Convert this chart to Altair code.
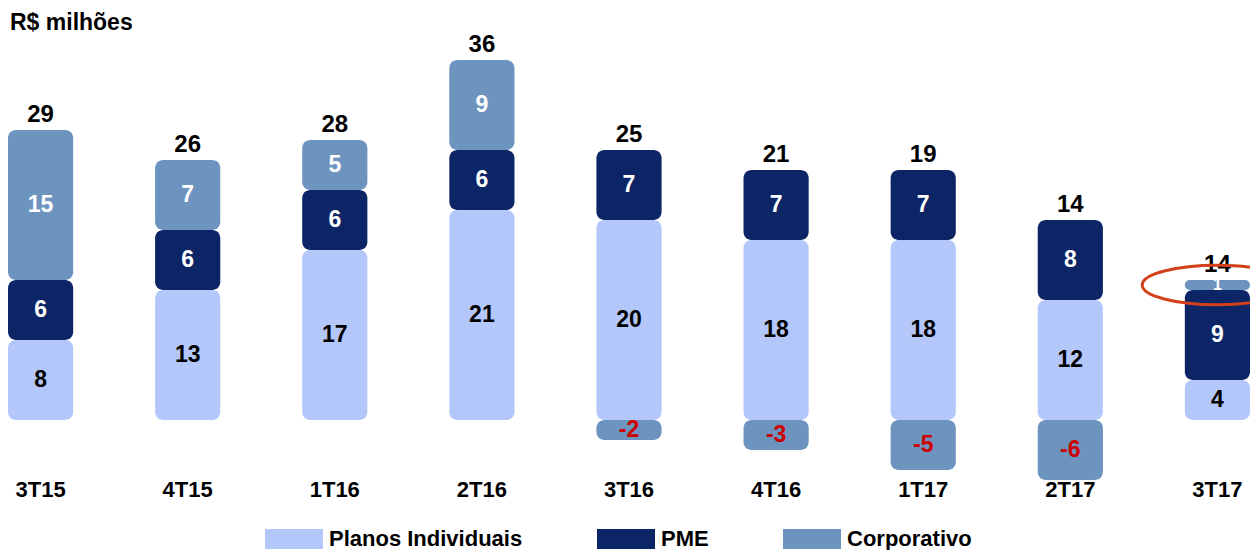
import altair as alt
import pandas as pd

quarters = ["3T15", "4T15", "1T16", "2T16", "3T16", "4T16", "1T17", "2T17", "3T17"]
planos = [8, 13, 17, 21, 20, 18, 18, 12, 4]
pme = [6, 6, 6, 6, 7, 7, 7, 8, 9]
corp = [15, 7, 5, 9, -2, -3, -5, -6, 1]
totals = [29, 26, 28, 36, 25, 21, 19, 14, 14]

series = ["Planos Individuais", "PME", "Corporativo"]
colors = ["#b3c7fb", "#0c2566", "#6d93bf"]

rows = []
for i, q in enumerate(quarters):
    p, m, c = planos[i], pme[i], corp[i]
    rows.append(dict(quarter=q, serie=series[0], value=p, y0=0, y1=p, tcolor="black"))
    rows.append(dict(quarter=q, serie=series[1], value=m, y0=p, y1=p + m, tcolor="white"))
    if c >= 0:
        rows.append(dict(quarter=q, serie=series[2], value=c, y0=p + m, y1=p + m + c, tcolor="white"))
    else:
        rows.append(dict(quarter=q, serie=series[2], value=c, y0=0, y1=c, tcolor="#cc0000"))
df = pd.DataFrame(rows)
df["mid"] = (df["y0"] + df["y1"]) / 2
df["label"] = df["value"].astype(str)
df["fsize"] = [16 if abs(v) < 2 else 23 for v in df["value"]]

tot = pd.DataFrame({
    "quarter": quarters,
    "total": [str(t) for t in totals],
    "top": [planos[i] + pme[i] + max(corp[i], 0) for i in range(len(quarters))],
})

FONT = "Liberation Sans"

x_enc = alt.X(
    "quarter:N", sort=quarters,
    scale=alt.Scale(paddingInner=0.557, paddingOuter=0),
    axis=alt.Axis(title=None, labelFontSize=22, labelFontWeight="bold", labelColor="black",
                  labelAngle=0, domain=False, ticks=False, labelPadding=-6, labelFont=FONT),
)
y_scale = alt.Scale(domain=[-6.5, 38.5], nice=False, zero=False)

bars = alt.Chart(df).mark_bar(cornerRadius=8).encode(
    x=x_enc,
    y=alt.Y("y0:Q", scale=y_scale, axis=None),
    y2="y1:Q",
    color=alt.Color(
        "serie:N",
        scale=alt.Scale(domain=series, range=colors),
        legend=alt.Legend(
            title=None, orient="none", legendX=257, legendY=484, direction="horizontal",
            symbolType="M-1,-0.5H1.9V0.5H-1Z", symbolSize=1600, symbolStrokeWidth=0,
            symbolOpacity=1, labelOffset=24, labelFontSize=22, labelFontWeight="bold",
            labelFont=FONT, labelColor="black", columnPadding=74, labelLimit=400,
        ),
    ),
    order=alt.Order("y0:Q"),
)

seg_text = alt.Chart(df).mark_text(fontWeight="bold", font=FONT, baseline="middle").encode(
    x=alt.X("quarter:N", sort=quarters),
    y=alt.Y("mid:Q", scale=y_scale),
    text="label:N",
    color=alt.Color("tcolor:N", scale=None),
    size=alt.Size("fsize:Q", scale=None),
)

tot_text = alt.Chart(tot).mark_text(fontSize=24, fontWeight="bold", font=FONT, baseline="alphabetic", dy=-8, color="black").encode(
    x=alt.X("quarter:N", sort=quarters),
    y=alt.Y("top:Q", scale=y_scale),
    text="total:N",
)

ellipse = alt.Chart(df[(df.quarter == "3T17") & (df.serie == "Corporativo")]).mark_point(
    shape="M-1.6,0A1.6,0.42 0 1,0 1.6,0A1.6,0.42 0 1,0 -1.6,0Z",
    size=8836, filled=False, stroke="#d2401a", strokeWidth=3, opacity=1,
).encode(
    x=alt.X("quarter:N", sort=quarters),
    y=alt.Y("mid:Q", scale=y_scale),
)

chart = alt.layer(bars, seg_text, tot_text, ellipse).properties(
    width=1242, height=450,
    title=alt.Title("R$ milhões", anchor="start", fontSize=23, fontWeight="bold", font=FONT,
                    color="black", offset=2, dx=2, dy=4),
    autosize=alt.AutoSizeParams(type="none"),
    padding={"left": 0, "right": 0, "top": 27, "bottom": 65},
    background="white",
).configure_view(stroke=None, strokeWidth=0)

chart.save("out.html", embed_options={"renderer": "svg", "actions": False})
